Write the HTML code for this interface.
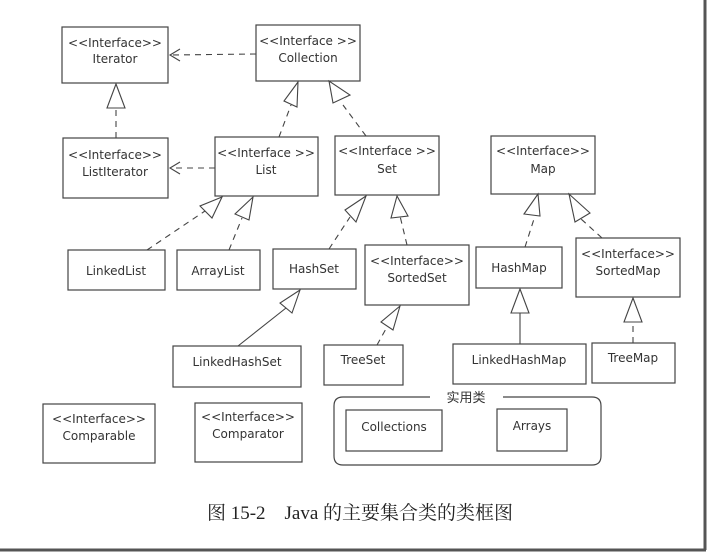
<!DOCTYPE html>
<html><head><meta charset="utf-8"><style>
html,body{margin:0;padding:0;background:#fff}
svg{display:block}
text{font-family:"DejaVu Sans","Liberation Sans",sans-serif;font-size:12px;fill:#333}
</style></head><body>
<svg width="709" height="553" viewBox="0 0 709 553" xmlns="http://www.w3.org/2000/svg">
<rect x="0" y="0" width="709" height="553" fill="#fff"/>
<line x1="705" y1="0" x2="705" y2="550" stroke="#555" stroke-width="3"/>
<line x1="0" y1="550" x2="706" y2="550" stroke="#555" stroke-width="3"/>
<g fill="none" stroke="#444" stroke-width="1.2">
<rect x="62" y="27" width="106" height="56"/>
<rect x="256" y="25" width="104" height="56"/>
<rect x="63" y="138" width="105" height="60"/>
<rect x="215" y="137" width="103" height="59"/>
<rect x="335" y="136" width="104" height="59"/>
<rect x="491" y="136" width="104" height="58"/>
<rect x="68" y="250" width="97" height="40"/>
<rect x="177" y="250" width="83" height="40"/>
<rect x="273" y="249" width="83" height="40"/>
<rect x="365" y="245" width="104" height="60"/>
<rect x="476" y="247" width="86" height="41"/>
<rect x="576" y="238" width="104" height="59"/>
<rect x="173" y="346" width="128" height="41"/>
<rect x="324" y="345" width="79" height="40"/>
<rect x="453" y="344" width="133" height="40"/>
<rect x="592" y="343" width="83" height="40"/>
<rect x="43" y="404" width="112" height="59"/>
<rect x="195" y="403" width="107" height="59"/>
<path d="M430 397 H343 Q334 397 334 406 V456 Q334 465 343 465 H592 Q601 465 601 456 V406 Q601 397 592 397 H503"/>
<rect x="346" y="410" width="96" height="41"/>
<rect x="497" y="409" width="70" height="42"/>
</g>
<g fill="none" stroke="#444" stroke-width="1.1" stroke-dasharray="6,5">
<line x1="256" y1="54" x2="170" y2="55"/>
<line x1="215" y1="168" x2="170" y2="168"/>
<line x1="116" y1="138" x2="116" y2="108"/>
<line x1="279" y1="137" x2="291" y2="105"/>
<line x1="366" y1="136" x2="343" y2="105"/>
<line x1="147" y1="250" x2="205" y2="211"/>
<line x1="229" y1="250" x2="242" y2="218"/>
<line x1="329" y1="249" x2="350" y2="217"/>
<line x1="407" y1="245" x2="400" y2="216"/>
<line x1="525" y1="247" x2="534" y2="219"/>
<line x1="602" y1="238" x2="580" y2="218"/>
<line x1="377" y1="345" x2="387" y2="327"/>
<line x1="633" y1="343" x2="633" y2="325"/>
</g>
<g fill="none" stroke="#444" stroke-width="1.1">
<line x1="520" y1="344" x2="520" y2="313"/>
<line x1="238" y1="346" x2="286" y2="308"/>
<polyline points="180,49 170,55 180,61"/>
<polyline points="180,162 170,168 180,174"/>
</g>
<g fill="#fff" stroke="#444" stroke-width="1.1">
<polygon points="116,84 107,108 125,108"/>
<polygon points="298,82 284,101 297,107"/>
<polygon points="329,81 333,103 350,95"/>
<polygon points="222,197 200,206 212,218"/>
<polygon points="253,197 235,214 249,220"/>
<polygon points="366,196 345,210 356,222"/>
<polygon points="397,196 391,218 408,216"/>
<polygon points="538,194 524,214 540,216"/>
<polygon points="569,194 575,222 590,213"/>
<polygon points="520,289 511,313 529,313"/>
<polygon points="633,298 624,322 642,322"/>
<polygon points="400,306 381,322 393,330"/>
<polygon points="300,290 280,303 292,313"/>
</g>
<g text-anchor="middle">
<text x="115" y="47">&lt;&lt;Interface&gt;&gt;</text><text x="115" y="63">Iterator</text>
<text x="308" y="45">&lt;&lt;Interface &gt;&gt;</text><text x="308" y="62">Collection</text>
<text x="115" y="159">&lt;&lt;Interface&gt;&gt;</text><text x="115" y="176">ListIterator</text>
<text x="266" y="157">&lt;&lt;Interface &gt;&gt;</text><text x="266" y="174">List</text>
<text x="387" y="155">&lt;&lt;Interface &gt;&gt;</text><text x="387" y="173">Set</text>
<text x="543" y="155">&lt;&lt;Interface&gt;&gt;</text><text x="543" y="173">Map</text>
<text x="116" y="275">LinkedList</text>
<text x="218" y="275">ArrayList</text>
<text x="314" y="273">HashSet</text>
<text x="417" y="265">&lt;&lt;Interface&gt;&gt;</text><text x="417" y="282">SortedSet</text>
<text x="519" y="272">HashMap</text>
<text x="628" y="258">&lt;&lt;Interface&gt;&gt;</text><text x="628" y="275">SortedMap</text>
<text x="237" y="366">LinkedHashSet</text>
<text x="363" y="364">TreeSet</text>
<text x="519" y="364">LinkedHashMap</text>
<text x="633" y="362">TreeMap</text>
<text x="99" y="423">&lt;&lt;Interface&gt;&gt;</text><text x="99" y="440">Comparable</text>
<text x="248" y="421">&lt;&lt;Interface&gt;&gt;</text><text x="248" y="438">Comparator</text>
<text x="394" y="431">Collections</text>
<text x="532" y="430">Arrays</text>
<text x="466" y="402" style="font-family:'Noto Sans CJK SC',sans-serif;font-size:13px">实用类</text>
<text x="360" y="519" style="font-family:'Liberation Serif','Noto Serif CJK SC',serif;font-size:19px;fill:#222">图 15-2　Java 的主要集合类的类框图</text>
</g>
</svg>
</body></html>
